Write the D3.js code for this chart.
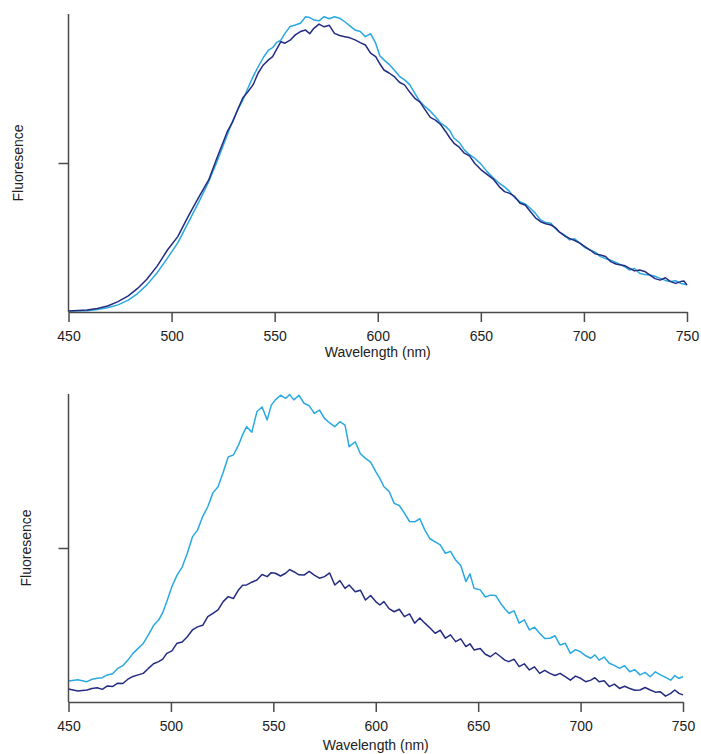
<!DOCTYPE html>
<html>
<head>
<meta charset="utf-8">
<script src="https://cdn.jsdelivr.net/npm/d3@7"></script>
<style>
  html, body { margin: 0; padding: 0; background: #fff; }
  svg { display: block; }
  text { font-family: "Liberation Sans", Arial, sans-serif; fill: #222; }
</style>
</head>
<body>
<svg id="chart" width="701" height="754"></svg>
<script>
// ---- Data (arbitrary fluorescence units) ----
const xTicks = [450, 500, 550, 600, 650, 700, 750];
const yTicks = [50];

// Top panel
const topWavelength = [450,459,464,469,474,479,483.5,488,493,498,503,508,513,518,522,527,529.5,532,534.5,537,539.5,542,544.5,547,549,551,553,555,557.5,560,562.5,565,567,569,571.5,574,576.5,579,581.5,584,586.5,589,591.5,594,596.5,599,601,603,605.5,608,610.5,613,615.5,618,620.5,623,625.5,628,630.5,633,635,637,639.5,642,644.5,647,650,653,656,659,661.5,664,666.5,669,671.5,674,676.5,679,681.5,684,686,688,690.5,693,695.5,698,700.5,703,705.5,708,710.5,713,715.5,718,720,722,724.5,727,729.5,732,734.5,737,739.5,742,744.5,747,748.5,750];
const topDark  = [0.3,0.7,1.2,2.0,3.5,5.4,7.9,11.0,15.4,20.8,25.3,32.0,38.3,44.3,51.7,60.5,63.6,67.8,71.8,73.9,76.2,80.2,82.9,84.6,85.7,88.2,90.7,90.2,91.2,93.0,94.1,94.6,93.4,95.2,96.6,95.7,96.2,93.5,92.8,92.4,92.0,91.3,90.4,89.6,86.9,85.7,83.3,81.2,80.2,79.0,77.1,76.2,73.8,71.7,70.4,67.8,65.3,64.4,62.9,60.5,58.4,56.6,55.3,53.3,52.4,49.9,47.8,46.2,44.6,42.0,40.4,39.8,38.7,36.5,35.9,33.7,31.6,30.3,29.6,29.2,28.4,26.9,25.6,24.7,24.0,23.1,21.9,20.8,19.5,19.1,18.6,16.9,16.1,15.8,15.5,14.7,13.8,14.1,13.6,12.4,11.2,10.7,11.5,10.2,9.6,10.2,10.4,9.1];
const topLight = [0.3,0.4,0.8,1.4,2.4,4.0,6.2,9.1,13.2,18.1,23.2,29.9,36.6,43.7,50.4,59.4,63.9,67.8,71.0,75.1,78.9,82.3,85.4,87.9,88.7,90.5,91.2,93.5,95.8,96.3,96.9,99.1,98.8,98.0,97.7,99.1,98.4,99.1,98.6,97.4,96.0,94.6,94.1,92.4,93.4,90.2,86.0,84.6,83.1,81.2,79.1,77.9,76.3,73.4,70.6,68.9,67.4,65.5,63.4,62.2,60.8,58.3,56.9,54.4,52.8,51.6,49.7,47.1,45.0,43.2,42.0,40.4,38.3,37.0,36.3,34.8,33.1,30.9,30.0,29.8,28.1,26.9,25.9,24.2,24.6,23.1,21.6,20.8,20.1,18.6,17.9,17.4,16.6,15.8,15.1,14.1,14.6,13.0,12.6,12.4,12.0,11.3,10.6,10.2,10.5,9.6,9.4,9.1];

// Bottom panel
const botWavelength = [450,454.5,459,461.5,464,466.5,469,471.5,474,476.5,479,481.5,484,486.5,489,491.5,494,496,498,500.5,503,505.5,508,510.5,513,515.5,518,520.5,523,525.5,528,530.5,533,535,537,539.5,542,544.5,547,549,551,553.5,556,558,560,562.5,565,567.5,570,572.5,575,577.5,580,582.5,585,587,590,592.5,595,597.5,600,602,604,606.5,609,611.5,614,616.5,619,621.5,624,626.5,629,631.5,634,636.5,639,641.5,644,646,648,651,653.5,656,658.5,661,663,665,667.5,670,672.5,675,677.5,680,682.5,685,687.5,690,692.5,695,697.5,700,702.5,705,707,709,711.5,714,716.5,719,721.5,724,726.5,729,731.5,734,736.5,739,741.5,744,746,748,750];
const botLight = [6.8,7.2,6.6,7.4,7.7,7.9,8.8,9.2,10.9,11.8,13.6,15.8,17.4,19.0,21.8,24.8,26.6,29.0,32.6,37.5,41.2,43.8,48.3,53.6,55.8,60.2,63.4,67.9,69.9,74.5,79.6,80.2,83.4,86.8,89.4,87.6,94.3,95.8,91.6,96.4,98.1,99.6,98.6,99.8,98.1,99.6,97.0,96.2,93.7,94.8,92.1,90.6,89.4,91.0,89.9,82.9,84.5,80.6,79.1,77.9,74.8,72.6,69.9,68.4,64.5,63.8,61.3,58.6,58.5,59.5,55.8,53.0,52.0,51.0,48.3,48.9,46.1,44.3,39.1,41.6,36.9,36.4,34.1,34.7,34.6,32.0,30.3,28.8,29.6,25.6,26.7,23.4,24.3,22.3,20.6,20.7,21.5,18.5,19.1,15.8,17.0,16.3,15.0,14.2,15.3,13.6,14.6,12.6,11.9,10.9,11.8,9.8,10.5,8.8,9.6,8.2,9.8,8.8,8.0,7.1,8.6,7.7,8.2];
const botDark  = [4.2,3.6,3.9,4.4,4.6,4.1,5.2,5.0,6.1,6.0,7.4,8.3,8.8,9.3,10.9,12.4,13.1,13.9,15.8,16.6,19.1,19.5,21.2,23.4,24.4,24.9,27.7,28.8,29.9,32.6,34.2,33.6,36.4,37.9,38.0,38.9,39.6,41.4,40.7,42.0,41.8,40.9,41.8,43.0,42.3,41.3,41.2,42.4,41.2,40.2,40.7,41.9,38.0,39.4,36.9,38.0,35.8,36.3,33.1,34.6,32.6,31.5,32.6,30.3,29.3,30.1,27.7,28.6,25.6,27.3,25.6,24.0,22.3,23.3,20.7,21.8,19.6,20.5,18.0,18.9,16.9,17.4,15.5,14.7,16.0,14.7,13.6,13.1,13.9,11.5,12.4,10.4,11.4,9.3,10.3,9.3,8.6,9.3,8.2,7.1,8.4,7.7,6.6,7.1,7.9,6.6,6.9,5.0,5.8,4.4,5.1,4.4,3.8,3.9,4.7,3.9,3.2,3.3,1.9,2.8,3.9,2.8,2.3];

const xLabel = "Wavelength (nm)";
const yLabel = "Fluoresence";

// ---- Drawing ----
const svg = d3.select("#chart");
const darkColor = "#232c80";
const lightColor = "#2aa8e2";
const axisColor = "#4a4a4a";
const fontSize = 14;

function panel(opts) {
  const x = d3.scaleLinear().domain([450, 750]).range([opts.left, opts.right]);
  const y = d3.scaleLinear().domain([0, 100]).range([opts.bottom, opts.top]);
  const g = svg.append("g");

  const line = d3.line().x(d => x(d[0])).y(d => y(d[1]));
  const n = opts.wl.length;
  const series = [
    {vals: opts.light, color: lightColor},
    {vals: opts.dark, color: darkColor}
  ];
  series.forEach(s => {
    g.append("path")
      .datum(opts.wl.slice(0, Math.min(n, s.vals.length)).map((w, i) => [w, s.vals[i]]))
      .attr("fill", "none")
      .attr("stroke", s.color)
      .attr("stroke-width", 1.5)
      .attr("stroke-linejoin", "round")
      .attr("d", line);
  });

  const xAxis = g.append("g")
    .attr("transform", `translate(0,${opts.bottom})`)
    .call(d3.axisBottom(x).tickValues(xTicks).tickSize(10).tickSizeOuter(0).tickPadding(9));
  const yAxis = g.append("g")
    .attr("transform", `translate(${opts.left},0)`)
    .call(d3.axisLeft(y).tickValues(yTicks).tickSize(10).tickSizeOuter(0).tickFormat(""));
  [xAxis, yAxis].forEach(a => {
    a.select(".domain").attr("stroke", axisColor).attr("stroke-width", 1.5);
    a.selectAll(".tick line").attr("stroke", axisColor).attr("stroke-width", 1.5);
    a.selectAll(".tick text")
      .attr("font-family", "Liberation Sans, Arial, sans-serif")
      .attr("font-size", fontSize).attr("fill", "#222");
  });
  yAxis.select(".domain").attr("d", `M0,${opts.bottom}V${opts.top}`);

  g.append("text")
    .attr("x", (opts.left + opts.right) / 2)
    .attr("y", opts.xTitleY)
    .attr("text-anchor", "middle")
    .attr("font-size", fontSize)
    .text(xLabel);
  g.append("text")
    .attr("transform", `translate(${opts.yTitleX},${(opts.top + opts.bottom) / 2}) rotate(-90)`)
    .attr("text-anchor", "middle")
    .attr("font-size", fontSize)
    .text(yLabel);
}

panel({left: 68.5, right: 687, top: 14, bottom: 312, wl: topWavelength, dark: topDark, light: topLight,
       xTitleY: 357, yTitleX: 23});
panel({left: 68.5, right: 683, top: 394, bottom: 702, wl: botWavelength, dark: botDark, light: botLight,
       xTitleY: 750, yTitleX: 31});
</script>
</body>
</html>
